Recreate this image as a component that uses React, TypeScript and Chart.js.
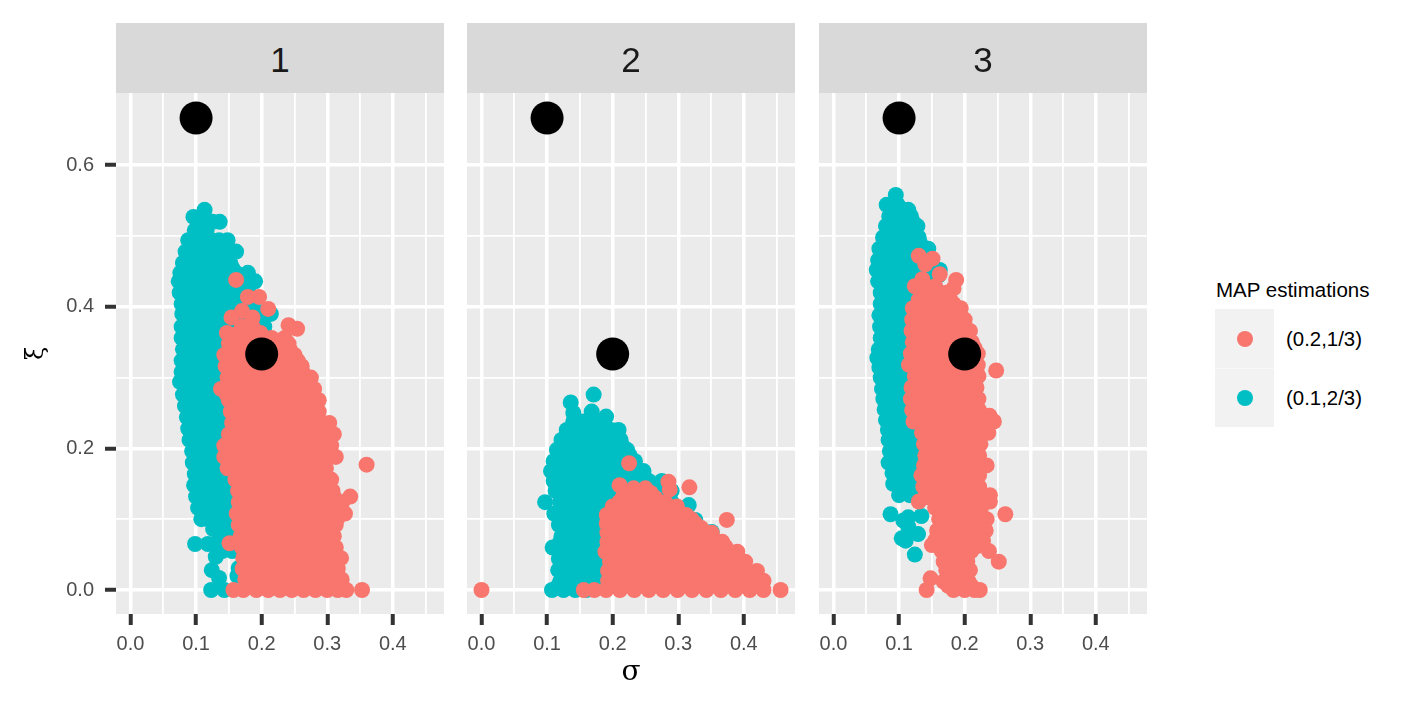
import React, { useEffect, useRef } from "react";
import { Chart, registerables } from "chart.js";

Chart.register(...registerables);

const TEAL = "#00BFC4";
const RED = "#F8766D";

const facets = ["1", "2", "3"];
const legendTitle = "MAP estimations";
const legendLabels = ["(0.2,1/3)", "(0.1,2/3)"];

const xMajor = [0, 0.1, 0.2, 0.3, 0.4];
const xMinor = [0.05, 0.15, 0.25, 0.35, 0.45];
const yMajor = [0, 0.2, 0.4, 0.6];
const yMinor = [0.1, 0.3, 0.5];

// true parameter values, same in every facet
const truth = [
  { x: 0.1, y: 0.6667 },
  { x: 0.2, y: 0.3333 },
];

// each row is [y, x, x, x ...]
const panel1Teal: number[][] = [
  [0.537, 0.113], [0.527, 0.096, 0.11], [0.52, 0.136, 0.125, 0.105], [0.508, 0.098, 0.116],
  [0.494, 0.088, 0.105, 0.123, 0.135, 0.148],
  [0.486, 0.095, 0.113, 0.131, 0.145],
  [0.478, 0.084, 0.096, 0.114, 0.132, 0.15, 0.161],
  [0.47, 0.09, 0.108, 0.126, 0.144],
  [0.462, 0.08, 0.098, 0.116, 0.134, 0.152],
  [0.455, 0.086, 0.104, 0.122, 0.14, 0.155],
  [0.448, 0.076, 0.089, 0.107, 0.125, 0.143, 0.161, 0.179],
  [0.442, 0.083, 0.101, 0.119, 0.137, 0.155, 0.172],
  [0.436, 0.0735, 0.098, 0.116, 0.134, 0.152, 0.17, 0.19],
  [0.428, 0.085, 0.103, 0.121, 0.139, 0.157, 0.175],
  [0.42, 0.075, 0.089, 0.107, 0.125, 0.143, 0.161, 0.18],
  [0.412, 0.087, 0.105, 0.123, 0.141, 0.159, 0.177],
  [0.404, 0.078, 0.098, 0.116, 0.134, 0.152, 0.17, 0.188],
  [0.397, 0.088, 0.106, 0.124, 0.142, 0.16, 0.178],
  [0.39, 0.079, 0.089, 0.107, 0.125, 0.143, 0.161, 0.179, 0.2, 0.214],
  [0.381, 0.087, 0.105, 0.123, 0.141, 0.159, 0.18],
  [0.372, 0.078, 0.098, 0.116, 0.134, 0.152, 0.17, 0.186, 0.204],
  [0.364, 0.087, 0.105, 0.123, 0.141, 0.159],
  [0.356, 0.078, 0.089, 0.107, 0.125, 0.143, 0.161],
  [0.348, 0.09, 0.108, 0.126, 0.144],
  [0.34, 0.08, 0.098, 0.116, 0.134, 0.152],
  [0.332, 0.088, 0.106, 0.124, 0.142],
  [0.324, 0.078, 0.089, 0.107, 0.125, 0.143, 0.161],
  [0.316, 0.087, 0.105, 0.123, 0.141],
  [0.308, 0.078, 0.098, 0.116, 0.134, 0.152],
  [0.3, 0.086, 0.104, 0.122, 0.14],
  [0.294, 0.0755, 0.089, 0.107, 0.125, 0.143, 0.161],
  [0.285, 0.088, 0.106, 0.124, 0.142],
  [0.276, 0.08, 0.098, 0.116, 0.134, 0.152],
  [0.268, 0.09, 0.108, 0.126, 0.144],
  [0.26, 0.083, 0.093, 0.111, 0.129, 0.147, 0.165],
  [0.252, 0.095, 0.113, 0.131, 0.149],
  [0.244, 0.086, 0.104, 0.122, 0.14, 0.158],
  [0.236, 0.097, 0.115, 0.133, 0.151],
  [0.228, 0.088, 0.097, 0.115, 0.133, 0.151],
  [0.22, 0.099, 0.117, 0.135],
  [0.212, 0.09, 0.108, 0.126, 0.144],
  [0.204, 0.102, 0.12, 0.138],
  [0.196, 0.094, 0.103, 0.121, 0.139, 0.157],
  [0.188, 0.104, 0.122, 0.14],
  [0.18, 0.095, 0.113, 0.131, 0.149],
  [0.172, 0.106, 0.124, 0.142],
  [0.164, 0.098, 0.107, 0.125, 0.143, 0.161],
  [0.156, 0.106, 0.124, 0.142],
  [0.148, 0.097, 0.115, 0.133, 0.151],
  [0.14, 0.108, 0.126, 0.144],
  [0.132, 0.1, 0.109, 0.127, 0.145, 0.163],
  [0.124, 0.112, 0.13, 0.148],
  [0.116, 0.103, 0.121, 0.139, 0.157],
  [0.108, 0.115, 0.133, 0.151],
  [0.1, 0.108, 0.118, 0.134, 0.15, 0.165],
  [0.092, 0.13, 0.148],
  [0.086, 0.126, 0.142, 0.16],
  [0.072, 0.137, 0.155],
  [0.065, 0.0985, 0.118, 0.13],
  [0.055, 0.14, 0.155],
  [0.047, 0.13],
  [0.031, 0.165], [0.028, 0.124], [0.02, 0.163], [0.017, 0.135],
  [0, 0.123, 0.143],
];

const panel1Red: number[][] = [
  [0.438, 0.161], [0.414, 0.179, 0.196], [0.397, 0.21], [0.394, 0.17], [0.385, 0.154, 0.186],
  [0.374, 0.241], [0.369, 0.254],
  [0.372, 0.17, 0.186],
  [0.363, 0.147, 0.165, 0.183, 0.198],
  [0.356, 0.165, 0.183, 0.2, 0.215, 0.235],
  [0.348, 0.15, 0.168, 0.186, 0.204, 0.227, 0.241],
  [0.34, 0.155, 0.173, 0.191, 0.209, 0.227, 0.243],
  [0.332, 0.143, 0.159, 0.177, 0.195, 0.213, 0.231, 0.25],
  [0.324, 0.15, 0.168, 0.186, 0.204, 0.222, 0.24, 0.255],
  [0.316, 0.145, 0.168, 0.186, 0.204, 0.222, 0.24, 0.258, 0.261],
  [0.308, 0.155, 0.173, 0.191, 0.209, 0.227, 0.245, 0.262],
  [0.3, 0.148, 0.159, 0.177, 0.195, 0.213, 0.231, 0.249, 0.267, 0.275],
  [0.292, 0.15, 0.168, 0.186, 0.204, 0.222, 0.24, 0.258, 0.27],
  [0.284, 0.138, 0.156, 0.174, 0.192, 0.21, 0.228, 0.246, 0.264, 0.28],
  [0.276, 0.147, 0.165, 0.183, 0.201, 0.219, 0.237, 0.255, 0.273],
  [0.268, 0.15, 0.165, 0.183, 0.201, 0.219, 0.237, 0.255, 0.273, 0.287],
  [0.26, 0.16, 0.178, 0.196, 0.214, 0.232, 0.25, 0.268, 0.282],
  [0.252, 0.153, 0.174, 0.192, 0.21, 0.228, 0.246, 0.264, 0.282, 0.287],
  [0.244, 0.16, 0.178, 0.196, 0.214, 0.232, 0.25, 0.268, 0.284],
  [0.236, 0.155, 0.165, 0.183, 0.201, 0.219, 0.237, 0.255, 0.273, 0.291, 0.303],
  [0.228, 0.16, 0.178, 0.196, 0.214, 0.232, 0.25, 0.268, 0.286, 0.3],
  [0.22, 0.15, 0.174, 0.192, 0.21, 0.228, 0.246, 0.264, 0.282, 0.3, 0.31],
  [0.212, 0.156, 0.174, 0.192, 0.21, 0.228, 0.246, 0.264, 0.282, 0.3],
  [0.204, 0.143, 0.165, 0.183, 0.201, 0.219, 0.237, 0.255, 0.273, 0.291, 0.306],
  [0.196, 0.152, 0.17, 0.188, 0.206, 0.224, 0.242, 0.26, 0.278, 0.296],
  [0.188, 0.143, 0.156, 0.174, 0.192, 0.21, 0.228, 0.246, 0.264, 0.282, 0.3, 0.313],
  [0.18, 0.156, 0.174, 0.192, 0.21, 0.228, 0.246, 0.264, 0.282, 0.295],
  [0.177, 0.36],
  [0.172, 0.148, 0.165, 0.183, 0.201, 0.219, 0.237, 0.255, 0.273, 0.291, 0.298],
  [0.164, 0.165, 0.183, 0.201, 0.219, 0.237, 0.255, 0.273, 0.291],
  [0.156, 0.16, 0.174, 0.192, 0.21, 0.228, 0.246, 0.264, 0.282, 0.3, 0.306],
  [0.148, 0.172, 0.19, 0.208, 0.226, 0.244, 0.262, 0.28, 0.298],
  [0.14, 0.164, 0.183, 0.201, 0.219, 0.237, 0.255, 0.273, 0.291, 0.308],
  [0.132, 0.172, 0.19, 0.208, 0.226, 0.244, 0.262, 0.28, 0.298, 0.31, 0.335],
  [0.124, 0.165, 0.174, 0.192, 0.21, 0.228, 0.246, 0.264, 0.282, 0.3, 0.323],
  [0.116, 0.172, 0.19, 0.208, 0.226, 0.244, 0.262, 0.28, 0.298, 0.315],
  [0.108, 0.162, 0.183, 0.201, 0.219, 0.237, 0.255, 0.273, 0.291, 0.309, 0.327],
  [0.1, 0.172, 0.19, 0.208, 0.226, 0.244, 0.262, 0.28, 0.298, 0.315],
  [0.092, 0.165, 0.174, 0.192, 0.21, 0.228, 0.246, 0.264, 0.282, 0.3, 0.313],
  [0.084, 0.176, 0.194, 0.212, 0.23, 0.248, 0.266, 0.284, 0.302],
  [0.076, 0.168, 0.183, 0.201, 0.219, 0.237, 0.255, 0.273, 0.291, 0.31],
  [0.068, 0.178, 0.196, 0.214, 0.232, 0.25, 0.268, 0.286, 0.304],
  [0.066, 0.151],
  [0.06, 0.17, 0.192, 0.21, 0.228, 0.246, 0.264, 0.282, 0.3, 0.313],
  [0.052, 0.18, 0.198, 0.216, 0.234, 0.252, 0.27, 0.288, 0.306],
  [0.045, 0.172, 0.183, 0.201, 0.219, 0.237, 0.255, 0.273, 0.291, 0.309, 0.321],
  [0.037, 0.18, 0.198, 0.216, 0.234, 0.252, 0.27, 0.288, 0.306],
  [0.03, 0.171, 0.192, 0.21, 0.228, 0.246, 0.264, 0.282, 0.3, 0.316],
  [0.022, 0.185, 0.203, 0.221, 0.239, 0.257, 0.275, 0.293, 0.311],
  [0.015, 0.175, 0.183, 0.201, 0.219, 0.237, 0.255, 0.273, 0.291, 0.309, 0.322],
  [0.007, 0.18, 0.198, 0.216, 0.234, 0.252, 0.27, 0.288, 0.306, 0.32],
  [0, 0.157, 0.172, 0.192, 0.21, 0.228, 0.246, 0.264, 0.282, 0.3, 0.316, 0.329, 0.353],
];

const panel2Teal: number[][] = [
  [0.276, 0.171], [0.265, 0.136], [0.252, 0.168], [0.25, 0.14], [0.245, 0.19],
  [0.238, 0.14, 0.155, 0.17],
  [0.232, 0.15],
  [0.226, 0.13, 0.147, 0.165, 0.186, 0.198, 0.209],
  [0.219, 0.13, 0.148, 0.166, 0.184, 0.202],
  [0.212, 0.122, 0.138, 0.156, 0.174, 0.192, 0.212],
  [0.205, 0.125, 0.143, 0.161, 0.179, 0.197, 0.214],
  [0.198, 0.115, 0.129, 0.147, 0.165, 0.183, 0.201, 0.222],
  [0.19, 0.12, 0.138, 0.156, 0.174, 0.192, 0.21, 0.226],
  [0.182, 0.11, 0.138, 0.12, 0.156, 0.174, 0.192, 0.21, 0.234],
  [0.175, 0.118, 0.136, 0.154, 0.172, 0.19, 0.208, 0.226],
  [0.168, 0.106, 0.129, 0.147, 0.165, 0.183, 0.201, 0.219, 0.247],
  [0.161, 0.12, 0.138, 0.156, 0.174, 0.192, 0.21, 0.228, 0.243],
  [0.154, 0.11, 0.12, 0.138, 0.156, 0.174, 0.192, 0.21, 0.228, 0.245, 0.255, 0.275],
  [0.147, 0.122, 0.14, 0.158, 0.176, 0.194, 0.212, 0.23],
  [0.14, 0.113, 0.129, 0.147, 0.165, 0.183, 0.201, 0.27, 0.29],
  [0.132, 0.125, 0.143, 0.161, 0.179, 0.197],
  [0.124, 0.097, 0.12, 0.138, 0.156, 0.174, 0.192, 0.29],
  [0.12, 0.316],
  [0.116, 0.122, 0.14, 0.158, 0.176, 0.194],
  [0.108, 0.111, 0.129, 0.147, 0.165, 0.183, 0.198],
  [0.1, 0.127, 0.145, 0.163, 0.181],
  [0.099, 0.326],
  [0.092, 0.118, 0.138, 0.156, 0.174, 0.192],
  [0.084, 0.13, 0.148, 0.166, 0.184],
  [0.082, 0.351],
  [0.076, 0.122, 0.129, 0.147, 0.165, 0.183, 0.198],
  [0.068, 0.12, 0.138, 0.156, 0.174, 0.19],
  [0.06, 0.1085, 0.12, 0.138, 0.156, 0.174, 0.192],
  [0.052, 0.127, 0.145, 0.163, 0.181],
  [0.044, 0.118, 0.129, 0.147, 0.165, 0.183, 0.198],
  [0.036, 0.127, 0.145, 0.163, 0.181],
  [0.028, 0.117, 0.138, 0.156, 0.174, 0.19],
  [0.02, 0.127, 0.145, 0.163, 0.181],
  [0.012, 0.12, 0.129, 0.147, 0.165, 0.183],
  [0.006, 0.117, 0.135, 0.153, 0.17],
  [0, 0.1075, 0.125, 0.143, 0.16],
];

const panel2Red: number[][] = [
  [0.179, 0.225], [0.153, 0.285], [0.148, 0.2105], [0.145, 0.317], [0.142, 0.287],
  [0.1436, 0.232, 0.25],
  [0.137, 0.225, 0.243, 0.258],
  [0.13, 0.215, 0.233, 0.251, 0.265],
  [0.124, 0.21, 0.228, 0.246, 0.264, 0.28],
  [0.118, 0.2, 0.218, 0.236, 0.254, 0.272, 0.285, 0.298],
  [0.112, 0.2, 0.218, 0.236, 0.254, 0.272, 0.29],
  [0.106, 0.191, 0.209, 0.227, 0.245, 0.263, 0.281, 0.299, 0.312],
  [0.1, 0.2, 0.218, 0.236, 0.254, 0.272, 0.29, 0.308, 0.32],
  [0.099, 0.374],
  [0.094, 0.191, 0.2, 0.222, 0.244, 0.266, 0.288, 0.31, 0.326],
  [0.0875, 0.2, 0.222, 0.244, 0.266, 0.288, 0.31, 0.335],
  [0.081, 0.192, 0.211, 0.233, 0.255, 0.277, 0.299, 0.321, 0.34, 0.351],
  [0.0745, 0.2, 0.222, 0.244, 0.266, 0.288, 0.31, 0.332, 0.352],
  [0.068, 0.192, 0.2, 0.222, 0.244, 0.266, 0.288, 0.31, 0.332, 0.354, 0.367],
  [0.061, 0.2, 0.222, 0.244, 0.266, 0.288, 0.31, 0.332, 0.354, 0.372],
  [0.054, 0.189, 0.211, 0.233, 0.255, 0.277, 0.299, 0.321, 0.343, 0.365, 0.39],
  [0.047, 0.2, 0.222, 0.244, 0.266, 0.288, 0.31, 0.332, 0.354, 0.376, 0.39],
  [0.04, 0.196, 0.204, 0.222, 0.244, 0.266, 0.288, 0.31, 0.332, 0.354, 0.376, 0.402],
  [0.0335, 0.205, 0.227, 0.249, 0.271, 0.293, 0.315, 0.337, 0.359, 0.381, 0.4],
  [0.027, 0.193, 0.211, 0.233, 0.255, 0.277, 0.299, 0.321, 0.343, 0.365, 0.387, 0.42],
  [0.02, 0.2, 0.222, 0.244, 0.266, 0.288, 0.31, 0.332, 0.354, 0.376, 0.398, 0.412],
  [0.013, 0.193, 0.204, 0.222, 0.244, 0.266, 0.288, 0.31, 0.332, 0.354, 0.376, 0.398, 0.415, 0.43],
  [0.0065, 0.2, 0.222, 0.244, 0.266, 0.288, 0.31, 0.332, 0.354, 0.376, 0.398, 0.42],
  [0, 0, 0.156, 0.172, 0.19, 0.211, 0.233, 0.255, 0.277, 0.299, 0.321, 0.343, 0.365, 0.387, 0.409, 0.43, 0.456],
];

const panel3Teal: number[][] = [
  [0.558, 0.095], [0.544, 0.081, 0.098], [0.537, 0.114], [0.528, 0.085, 0.102, 0.118],
  [0.522, 0.088, 0.106, 0.12],
  [0.514, 0.08, 0.098, 0.116, 0.128],
  [0.506, 0.084, 0.102, 0.12],
  [0.498, 0.0755, 0.089, 0.107, 0.125, 0.13],
  [0.49, 0.08, 0.098, 0.116, 0.132],
  [0.482, 0.07, 0.088, 0.106, 0.124, 0.1445],
  [0.474, 0.078, 0.096, 0.114, 0.132],
  [0.466, 0.068, 0.079, 0.097, 0.115, 0.133, 0.148],
  [0.459, 0.076, 0.094, 0.112, 0.13, 0.148],
  [0.452, 0.066, 0.088, 0.106, 0.124, 0.142, 0.162],
  [0.444, 0.076, 0.094, 0.112, 0.13, 0.148, 0.16],
  [0.436, 0.068, 0.079, 0.097, 0.115, 0.133, 0.151],
  [0.428, 0.08, 0.098, 0.116, 0.134],
  [0.42, 0.072, 0.088, 0.106, 0.124],
  [0.412, 0.08, 0.098, 0.116, 0.134],
  [0.404, 0.072, 0.079, 0.097, 0.115, 0.133],
  [0.396, 0.08, 0.098, 0.116],
  [0.388, 0.07, 0.088, 0.106, 0.124],
  [0.38, 0.08, 0.098, 0.116],
  [0.372, 0.071, 0.079, 0.097, 0.115, 0.133],
  [0.364, 0.08, 0.098, 0.116],
  [0.356, 0.072, 0.088, 0.106, 0.124],
  [0.348, 0.08, 0.098, 0.116],
  [0.34, 0.069, 0.079, 0.097, 0.115, 0.133],
  [0.334, 0.077, 0.095, 0.113],
  [0.328, 0.0668, 0.088, 0.106, 0.124],
  [0.321, 0.08, 0.098, 0.116],
  [0.314, 0.07, 0.079, 0.097, 0.115, 0.133],
  [0.307, 0.082, 0.1, 0.118],
  [0.3, 0.072, 0.088, 0.106, 0.124],
  [0.292, 0.083, 0.101, 0.119],
  [0.284, 0.074, 0.083, 0.101, 0.119, 0.137],
  [0.277, 0.084, 0.102, 0.12],
  [0.27, 0.076, 0.092, 0.11, 0.128],
  [0.262, 0.086, 0.104, 0.122],
  [0.255, 0.078, 0.087, 0.105, 0.123, 0.141],
  [0.248, 0.088, 0.106, 0.124],
  [0.24, 0.08, 0.096, 0.114, 0.132],
  [0.233, 0.091, 0.109, 0.127],
  [0.226, 0.083, 0.092, 0.11, 0.128, 0.146],
  [0.219, 0.093, 0.111, 0.129],
  [0.212, 0.084, 0.101, 0.119, 0.137],
  [0.204, 0.094, 0.112, 0.13],
  [0.196, 0.086, 0.092, 0.11, 0.128, 0.146],
  [0.188, 0.093, 0.111, 0.129],
  [0.18, 0.084, 0.101, 0.119, 0.137],
  [0.172, 0.098, 0.116, 0.134],
  [0.165, 0.09, 0.097, 0.115, 0.133, 0.148],
  [0.157, 0.1, 0.118, 0.136],
  [0.15, 0.091, 0.106, 0.124, 0.142],
  [0.142, 0.11, 0.128],
  [0.134, 0.1, 0.116, 0.13],
  [0.107, 0.087], [0.1045, 0.134], [0.1026, 0.114], [0.098, 0.1065], [0.0895, 0.114],
  [0.079, 0.129], [0.073, 0.104], [0.0697, 0.11], [0.05, 0.124],
];

const panel3Red: number[][] = [
  [0.472, 0.13], [0.468, 0.151], [0.46, 0.14], [0.446, 0.162], [0.439, 0.1355], [0.438, 0.187],
  [0.429, 0.124, 0.14, 0.155], [0.426, 0.183],
  [0.42, 0.135, 0.155, 0.172],
  [0.41, 0.13, 0.148, 0.166, 0.178],
  [0.404, 0.13, 0.148, 0.166, 0.183],
  [0.398, 0.121, 0.139, 0.157, 0.175, 0.194],
  [0.39, 0.13, 0.148, 0.166, 0.184],
  [0.382, 0.12, 0.13, 0.148, 0.166, 0.184, 0.2],
  [0.374, 0.128, 0.146, 0.164, 0.182, 0.2],
  [0.366, 0.119, 0.139, 0.157, 0.175, 0.193, 0.208],
  [0.358, 0.13, 0.148, 0.166, 0.184, 0.202],
  [0.35, 0.121, 0.13, 0.148, 0.166, 0.184, 0.202, 0.211],
  [0.342, 0.128, 0.146, 0.164, 0.182, 0.2, 0.215],
  [0.334, 0.118, 0.139, 0.157, 0.175, 0.193, 0.211, 0.22],
  [0.326, 0.125, 0.143, 0.161, 0.179, 0.197, 0.215],
  [0.318, 0.115, 0.13, 0.148, 0.166, 0.184, 0.202, 0.22],
  [0.31, 0.13, 0.148, 0.166, 0.184, 0.202, 0.218, 0.248],
  [0.302, 0.124, 0.139, 0.157, 0.175, 0.193, 0.211, 0.221],
  [0.294, 0.128, 0.146, 0.164, 0.182, 0.2, 0.215],
  [0.286, 0.119, 0.13, 0.148, 0.166, 0.184, 0.202, 0.218],
  [0.278, 0.128, 0.146, 0.164, 0.182, 0.2, 0.215],
  [0.27, 0.118, 0.139, 0.157, 0.175, 0.193, 0.211, 0.221],
  [0.262, 0.13, 0.148, 0.166, 0.184, 0.202, 0.218],
  [0.254, 0.12, 0.13, 0.148, 0.166, 0.184, 0.202, 0.222],
  [0.246, 0.13, 0.148, 0.166, 0.184, 0.202, 0.22, 0.238],
  [0.238, 0.122, 0.139, 0.157, 0.175, 0.193, 0.211, 0.23, 0.2445],
  [0.23, 0.14, 0.158, 0.176, 0.194, 0.212, 0.23],
  [0.222, 0.135, 0.148, 0.166, 0.184, 0.202, 0.22, 0.236],
  [0.214, 0.145, 0.163, 0.181, 0.199, 0.217],
  [0.206, 0.138, 0.157, 0.175, 0.193, 0.211, 0.224],
  [0.198, 0.148, 0.166, 0.184, 0.202, 0.218],
  [0.19, 0.14, 0.148, 0.166, 0.184, 0.202, 0.222],
  [0.183, 0.148, 0.166, 0.184, 0.202, 0.22],
  [0.176, 0.138, 0.157, 0.175, 0.193, 0.211, 0.2335],
  [0.169, 0.145, 0.163, 0.181, 0.199, 0.217],
  [0.162, 0.134, 0.148, 0.166, 0.184, 0.202, 0.222],
  [0.154, 0.145, 0.163, 0.181, 0.199, 0.217],
  [0.146, 0.137, 0.157, 0.175, 0.193, 0.211, 0.222],
  [0.138, 0.15, 0.168, 0.186, 0.204, 0.222],
  [0.134, 0.2385],
  [0.131, 0.14, 0.148, 0.166, 0.184, 0.202, 0.22],
  [0.125, 0.13, 0.2385],
  [0.123, 0.165, 0.183, 0.201, 0.219],
  [0.116, 0.155, 0.175, 0.193, 0.211, 0.225],
  [0.108, 0.165, 0.183, 0.201, 0.219],
  [0.107, 0.262],
  [0.1, 0.161, 0.166, 0.184, 0.202, 0.22, 0.2335],
  [0.092, 0.167, 0.185, 0.203, 0.221],
  [0.084, 0.158, 0.175, 0.193, 0.211, 0.232],
  [0.077, 0.165, 0.183, 0.201, 0.219],
  [0.07, 0.155, 0.166, 0.184, 0.202, 0.22, 0.228],
  [0.0635, 0.15],
  [0.062, 0.165, 0.183, 0.201, 0.219],
  [0.055, 0.165, 0.185, 0.21, 0.237],
  [0.047, 0.175, 0.195],
  [0.04, 0.168, 0.186, 0.204, 0.252],
  [0.034, 0.18, 0.198],
  [0.028, 0.172, 0.19, 0.208],
  [0.02, 0.178, 0.196],
  [0.0165, 0.148],
  [0.012, 0.168, 0.186, 0.206],
  [0.006, 0.175, 0.192, 0.21],
  [0, 0.142, 0.183, 0.2, 0.215, 0.223],
];

const tealRows = [panel1Teal, panel2Teal, panel3Teal];
const redRows = [panel1Red, panel2Red, panel3Red];

const PANEL_LEFTS = [116, 467, 819];
const PANEL_WIDTH = 328;
const GUTTER = 116; // room left of each panel for the y axis

function toPoints(rows: number[][]) {
  return rows.flatMap(([y, ...xs]) => xs.map((x) => ({ x, y })));
}

function buildTicks(major: number[], minor: number[]) {
  return [
    ...major.map((value) => ({ value, major: true })),
    ...minor.map((value) => ({ value, major: false })),
  ].sort((a, b) => a.value - b.value);
}

const panelBackground = {
  id: "panelBackground",
  beforeDraw(chart: Chart) {
    const { ctx, chartArea } = chart;
    ctx.save();
    ctx.fillStyle = "#EBEBEB";
    ctx.fillRect(chartArea.left, chartArea.top, chartArea.width, chartArea.height);
    ctx.restore();
  },
};

function Panel({ index }: { index: number }) {
  const canvasRef = useRef<HTMLCanvasElement | null>(null);

  useEffect(() => {
    if (!canvasRef.current) return;
    const gridWidth = (c: any) => (c.tick && c.tick.major ? 3.5 : 1.8);
    const tickColor = (c: any) => (c.tick && c.tick.major ? "#333333" : "rgba(0,0,0,0)");
    const tickWidth = (c: any) => (c.tick && c.tick.major ? 4 : 0);
    const label = (value: any, i: number, ticks: any[]) =>
      ticks[i].major ? Number(value).toFixed(1) : "";
    const tickFont = { family: "'Liberation Sans', Arial, sans-serif", size: 20 };

    const chart = new Chart(canvasRef.current, {
      type: "scatter",
      data: {
        datasets: [
          {
            label: "truth",
            data: truth,
            backgroundColor: "#000000",
            pointRadius: 16.5,
            pointBorderWidth: 0,
          },
          {
            label: legendLabels[0],
            data: toPoints(redRows[index]),
            backgroundColor: RED,
            pointRadius: 8,
            pointBorderWidth: 0,
          },
          {
            label: legendLabels[1],
            data: toPoints(tealRows[index]),
            backgroundColor: TEAL,
            pointRadius: 8,
            pointBorderWidth: 0,
          },
        ],
      },
      options: {
        animation: false,
        responsive: false,
        layout: { autoPadding: false, padding: { top: 93 } },
        plugins: { legend: { display: false }, tooltip: { enabled: false } },
        scales: {
          x: {
            type: "linear",
            min: -0.0221,
            max: 0.478,
            afterBuildTicks: (scale: any) => {
              scale.ticks = buildTicks(xMajor, xMinor);
            },
            afterFit: (scale: any) => {
              scale.height = 94;
            },
            border: { display: false },
            grid: { color: "#FFFFFF", lineWidth: gridWidth, tickColor, tickWidth, tickLength: 11 },
            ticks: {
              autoSkip: false,
              maxRotation: 0,
              padding: 7,
              color: "#4D4D4D",
              font: tickFont,
              callback: label,
            },
            title: {
              display: index === 1,
              text: "σ",
              color: "#000000",
              font: { family: "'DejaVu Serif', serif", size: 28 },
              padding: { top: 0, bottom: 18 },
            },
          },
          y: {
            type: "linear",
            min: -0.0339,
            max: 0.702,
            afterBuildTicks: (scale: any) => {
              scale.ticks = buildTicks(yMajor, yMinor);
            },
            afterFit: (scale: any) => {
              scale.width = GUTTER;
            },
            border: { display: false },
            grid: {
              color: "#FFFFFF",
              lineWidth: gridWidth,
              tickColor,
              tickWidth,
              tickLength: 11,
              drawTicks: index === 0,
            },
            ticks: {
              display: index === 0,
              autoSkip: false,
              padding: 11,
              color: "#4D4D4D",
              font: tickFont,
              callback: label,
            },
            title: {
              display: index === 0,
              text: "ξ",
              color: "#000000",
              font: { family: "'DejaVu Serif', serif", size: 24 },
              padding: { top: 22, bottom: 0 },
            },
          },
        },
      },
      plugins: [panelBackground],
    });

    return () => {
      chart.destroy();
    };
  }, [index]);

  const left = PANEL_LEFTS[index] - GUTTER;
  return (
    <canvas
      ref={canvasRef}
      width={GUTTER + PANEL_WIDTH}
      height={708}
      style={{ position: "absolute", left, top: 0 }}
    />
  );
}

const sansFont = "'Liberation Sans', Arial, sans-serif";

export default function App() {
  useEffect(() => {
    document.body.style.margin = "0";
  }, []);

  return (
    <div style={{ position: "relative", width: 1417, height: 708, background: "#FFFFFF", overflow: "hidden", fontFamily: sansFont }}>
      {facets.map((name, i) => (
        <Panel key={name} index={i} />
      ))}
      {facets.map((name, i) => (
        <div
          key={name}
          style={{
            position: "absolute",
            left: PANEL_LEFTS[i],
            top: 23,
            width: PANEL_WIDTH,
            height: 70,
            background: "#D9D9D9",
            color: "#1A1A1A",
            fontSize: 35,
            lineHeight: "74px",
            textAlign: "center",
          }}
        >
          {name}
        </div>
      ))}
      <div style={{ position: "absolute", left: 1216, top: 277, fontSize: 20.5, lineHeight: "26px", color: "#000000", whiteSpace: "nowrap" }}>
        {legendTitle}
      </div>
      {legendLabels.map((text, i) => (
        <React.Fragment key={text}>
          <div style={{ position: "absolute", left: 1215, top: 309 + i * 59, width: 59, height: 59, background: "#F2F2F2", boxSizing: "border-box", borderTop: i ? "1px solid #F8F8F8" : "none" }} />
          <div style={{ position: "absolute", left: 1237, top: 331, width: 16, height: 16, marginTop: i * 59, borderRadius: "50%", background: i ? TEAL : RED }} />
          <div style={{ position: "absolute", left: 1286, top: 326 + i * 59, fontSize: 20.4, lineHeight: "26px", color: "#000000", whiteSpace: "nowrap" }}>
            {text}
          </div>
        </React.Fragment>
      ))}
    </div>
  );
}
